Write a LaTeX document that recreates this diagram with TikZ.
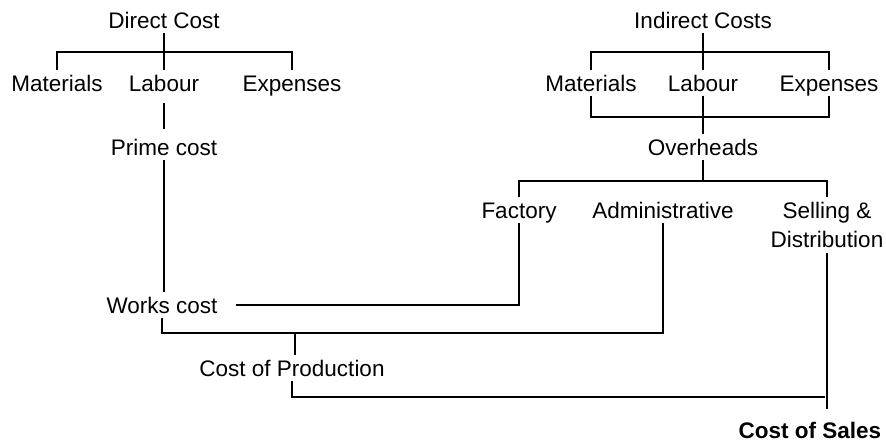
\documentclass[tikz,border=0pt]{standalone}
\usepackage{fontspec}
\setmainfont{Liberation Sans}
\usetikzlibrary{calc}
\tikzset{
	cost/.style={inner sep=3pt, font=\fontsize{16}{21}\selectfont, text height=11.5pt, text depth=0pt},
	costtwo/.style={inner sep=3pt, font=\fontsize{16}{21}\selectfont, align=center},
	link/.style={line width=0.9pt, color=black},
	gap/.style={shorten <=5pt, shorten >=4pt}
}

\begin{document}
\begin{tikzpicture}[x=0.025cm, y=-0.025cm]
			%%%%% START %%%%%
			\useasboundingbox (0, 0) rectangle (886, 443);
			
			% direct side
			\node[cost] (dc) at (164, 20) {Direct Cost};
			\node[cost] (dmat) at (57, 83) {Materials};
			\node[cost] (dlab) at (164, 83) {Labour};
			\node[cost] (dexp) at (292, 83) {Expenses};
			\node[cost] (prime) at (164, 147) {Prime cost};
			\node[cost] (wc) at (162, 305) {Works cost};
			\node[cost] (cop) at (292, 368) {Cost of Production};
			\node[cost, font=\fontsize{16}{21}\selectfont\bfseries] (cos) at (810, 430) {Cost of Sales};
			
			% indirect side
			\node[cost] (ic) at (703, 20) {Indirect Costs};
			\node[cost] (imat) at (591, 83) {Materials};
			\node[cost] (ilab) at (703, 83) {Labour};
			\node[cost] (iexp) at (829, 83) {Expenses};
			\node[cost] (ovh) at (703, 147) {Overheads};
			\node[cost] (fac) at (519, 210) {Factory};
			\node[cost] (adm) at (663, 210) {Administrative};
			\node[costtwo] (sd) at (827, 225) {Selling \&\\Distribution};
			
			\coordinate (dbar) at (164, 52);
			\coordinate (ibar) at (703, 52);
			\coordinate (ibartwo) at (703, 117);
			\coordinate (obar) at (703, 181);
			\coordinate (wbar) at (295, 333);
			\coordinate (sbar) at (825, 397);
			
			\draw[link] (dc) -- (dlab);
			\draw[link] (dmat.north) |- (dbar) -| (dexp.north);
			\draw[link, gap] (dlab) -- (prime);
			\draw[link] (prime.south) -- (prime.south |- wc.north);
			
			\draw[link] (ic) -- (ilab);
			\draw[link] (imat.north) |- (ibar) -| (iexp.north);
			\draw[link] (imat.south) |- (ibartwo) -| (iexp.south);
			\draw[link] (ilab) -- (ovh);
			\draw[link] (ovh.south) -- (obar);
			\draw[link] (fac.north) |- (obar) -| (sd.north);
			
			\draw[link] ([xshift=10pt]wc.east) -| (fac.south);
			\draw[link] (wc.south) |- (wbar) -| (adm.south);
			\draw[link] (wbar) -- (wbar |- cop.north);
			\draw[link] (cop.south) |- (sbar);
			\draw[link, shorten >=6pt] (sd.south) -- (sd.south |- cos.north);
			%%%%% END %%%%%
\end{tikzpicture}
\end{document}
